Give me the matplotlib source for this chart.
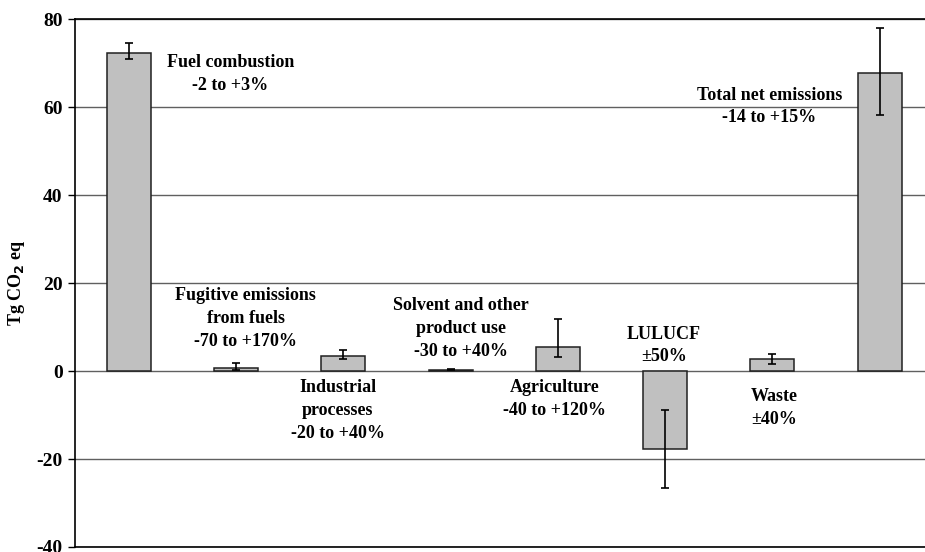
import matplotlib
matplotlib.use("Agg")
import matplotlib.pyplot as plt
import numpy as np

plt.rcParams["font.family"] = ["Liberation Serif", "DejaVu Serif"]
plt.rcParams["font.weight"] = "bold"

# Emission categories, net emissions (Tg CO2 eq) and uncertainty ranges (%)
categories = ["Fuel combustion", "Fugitive emissions from fuels",
              "Industrial processes", "Solvent and other product use",
              "Agriculture", "LULUCF", "Waste", "Total net emissions"]
values = [72.3, 0.7, 3.4, 0.3, 5.4, -17.8, 2.7, 67.7]
unc_low_pct = [-2, -70, -20, -30, -40, -50, -40, -14]
unc_high_pct = [3, 170, 40, 40, 120, 50, 40, 15]
range_labels = ["-2 to +3%", "-70 to +170%", "-20 to +40%", "-30 to +40%",
                "-40 to +120%", "\u00b150%", "\u00b140%", "-14 to +15%"]
label_names = ["Fuel combustion", "Fugitive emissions\nfrom fuels",
               "Industrial\nprocesses", "Solvent and other\nproduct use",
               "Agriculture", "LULUCF", "Waste", "Total net emissions"]
label_x = [0.95, 1.09, 1.95, 3.10, 3.97, 4.99, 6.02, 5.97]
label_y = [67.5, 12.0, -8.95, 9.7, -6.4, 5.8, -8.5, 60.1]
y_ticks = [-40, -20, 0, 20, 40, 60, 80]

vals = np.array(values)
low = vals * (1 + np.array(unc_low_pct) / 100.0)
high = vals * (1 + np.array(unc_high_pct) / 100.0)
lo_b = np.minimum(low, high)
hi_b = np.maximum(low, high)
yerr = np.vstack([vals - lo_b, hi_b - vals])

fig = plt.figure(figsize=(9.25, 5.52), dpi=100)
ax = fig.add_axes([0.0811, 0.00906, 0.928, 0.9565])

x = np.arange(len(categories))
ax.bar(x, vals, width=0.41, color="#c0c0c0", edgecolor="#202020",
       linewidth=1.1, zorder=3)
ax.errorbar(x, vals, yerr=yerr, fmt="none", ecolor="black",
            elinewidth=1.2, capsize=3, capthick=1.2, zorder=4)

for xi, yi, name, rng in zip(label_x, label_y, label_names, range_labels):
    ax.text(xi, yi, name + "\n" + rng, ha="center", va="center",
            fontsize=13, fontweight="bold", linespacing=1.45, zorder=5)

ax.set_xlim(-0.5, len(categories) - 0.5)
ax.set_ylim(-40, 80)
ax.set_yticks(y_ticks)
ax.set_yticklabels([str(t) for t in y_ticks], fontsize=14, fontweight="bold")
ax.set_xticks([])
ax.yaxis.grid(True, color="#606060", linewidth=1.0, zorder=0)
ax.set_axisbelow(True)
ax.tick_params(axis="y", direction="out", length=5, width=1.0, pad=4,
               color="black")

for side in ["left", "top", "bottom"]:
    ax.spines[side].set_color("black")
    ax.spines[side].set_linewidth(1.2)
ax.spines["right"].set_visible(False)

ax.set_ylabel("Tg CO$_\\mathbf{2}$ eq", fontsize=13, fontweight="bold")
ax.yaxis.set_label_coords(-0.056, 0.5)

fig.savefig("out.png", dpi=100)
